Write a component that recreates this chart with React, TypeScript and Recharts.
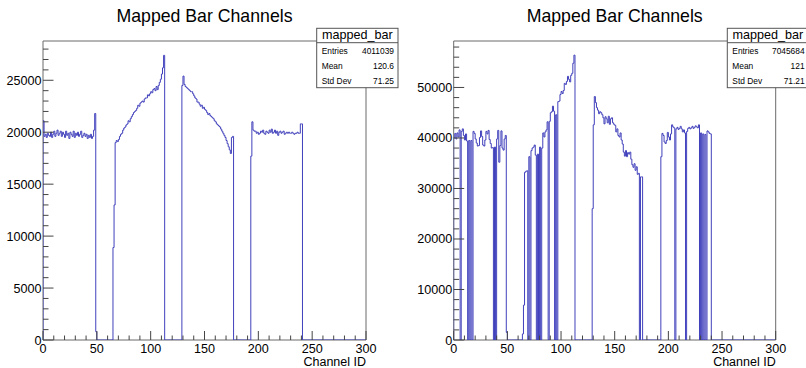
import React from 'react';
import { LineChart, Line, XAxis, YAxis, ReferenceArea } from 'recharts';

// Two ROOT-style histograms of mapped bar channel occupancy (bin width = 1 channel)

const FONT = '"Liberation Sans", Arial, Helvetica, sans-serif';
const LINE_COLOR = '#4040bc';
const FRAME_COLOR = '#6a6a6a';
const TICK_COLOR = '#444';

const CHANNEL_MAX = 300;
const xTicks = Array.from({ length: 31 }, (_, i) => i * 10);
const leftYTicks = Array.from({ length: 29 }, (_, i) => i * 1000);
const rightYTicks = Array.from({ length: 30 }, (_, i) => i * 2000);

const statLabels = ['Entries', 'Mean', 'Std Dev'];
const leftStats = ['4011039', '120.6', '71.25'];
const rightStats = ['7045684', '121', '71.21'];

// counts per channel, starting at channel 0 (channels past the end are empty)
const leftCounts = [
  21100, 19600, 19800, 19500, 19900, 19700, 19600, 20000, 19500, 19800, // 0
  20100, 19600, 19900, 20200, 19700, 19900, 20100, 19600, 20000, 19800, // 10
  19500, 20100, 19700, 19900, 19400, 20000, 19800, 19600, 20100, 19500, // 20
  19900, 19700, 20000, 19600, 19800, 20100, 19500, 19700, 19900, 19600, // 30
  19800, 19400, 19700, 19500, 19800, 19400, 19600, 20200, 21800, 800, // 40
  0, 0, 0, 0, 0, 0, 0, 0, 0, 0, // 50
  0, 0, 0, 0, 0, 8900, 13000, 19000, 19200, 19100, // 60
  19300, 19600, 19800, 19900, 20200, 20400, 20500, 20700, 20800, 21100, // 70
  21000, 21300, 21500, 21700, 21900, 22000, 22100, 22300, 22600, 22500, // 80
  22800, 22900, 23000, 22900, 23200, 23300, 23300, 23600, 23500, 23700, // 90
  23900, 23800, 24100, 24200, 24000, 24400, 24100, 24500, 24800, 25100, // 100
  25600, 26200, 27400, 0, 0, 0, 0, 0, 0, 0, // 110
  0, 0, 0, 0, 0, 0, 0, 0, 0, 24500, // 120
  25400, 24600, 24400, 24300, 24200, 24100, 24000, 23900, 23900, 23700, // 130
  23500, 23300, 23200, 22900, 22900, 22700, 22500, 22600, 22300, 22400, // 140
  22200, 22100, 21900, 21700, 21800, 21600, 21500, 21400, 21300, 21100, // 150
  21000, 20800, 20700, 20600, 20500, 20300, 20100, 19900, 19700, 19500, // 160
  19200, 18900, 18600, 18300, 17950, 19500, 19600, 0, 0, 0, // 170
  0, 0, 0, 0, 0, 0, 0, 0, 0, 0, // 180
  0, 0, 0, 17700, 21000, 20200, 20100, 20100, 19900, 20000, // 190
  19800, 19900, 20100, 20000, 20200, 19900, 19800, 20100, 20000, 19900, // 200
  20200, 20000, 20300, 19900, 20000, 20200, 19900, 20100, 19700, 20000, // 210
  20100, 19900, 20000, 20100, 19800, 19900, 20000, 19900, 20000, 19900, // 220
  19900, 20000, 19900, 19800, 19900, 19900, 20000, 19900, 19900, 20800, // 230
  20800, // 240
];

const rightCounts = [
  40000, 40900, 39800, 41000, 40200, 41600, 0, 41300, 41800, 40500, // 0
  39600, 40800, 39400, 0, 39500, 0, 39500, 0, 41300, 40900, // 10
  39800, 39000, 38400, 38500, 40100, 41400, 40300, 38600, 38400, 39600, // 20
  41300, 40800, 41500, 39700, 38900, 38000, 38100, 0, 38200, 0, // 30
  39800, 41500, 35200, 38500, 41400, 38000, 37600, 39800, 40500, 1500, // 40
  0, 0, 0, 0, 0, 0, 0, 0, 0, 0, // 50
  0, 0, 0, 0, 1200, 6900, 33200, 33400, 33500, 0, // 60
  36300, 0, 37500, 38000, 38200, 38600, 36600, 0, 36800, 0, // 70
  38200, 0, 38000, 41000, 40200, 41200, 41600, 43200, 0, 43300, // 80
  45000, 45200, 46300, 45300, 0, 44600, 0, 47200, 47300, 48600, // 90
  49200, 48800, 49400, 50800, 50600, 51200, 52200, 51600, 51100, 52400, // 100
  52800, 54800, 56400, 0, 0, 0, 0, 0, 0, 0, // 110
  0, 0, 0, 0, 0, 0, 0, 0, 0, 26000, // 120
  42600, 48200, 47000, 46000, 45500, 44800, 45200, 45000, 44600, 44000, // 130
  42800, 44200, 43800, 43000, 44300, 42700, 43800, 44000, 43000, 42700, // 140
  42500, 41200, 41800, 40500, 40200, 41000, 39600, 38800, 37200, 36400, // 150
  37500, 36300, 37100, 36800, 37200, 35800, 34700, 34200, 34900, 33600, // 160
  34300, 32800, 33000, 0, 32300, 32300, 0, 0, 0, 0, // 170
  0, 0, 0, 0, 0, 0, 0, 0, 0, 0, // 180
  0, 0, 0, 36300, 40900, 40500, 39200, 38900, 39500, 41100, // 190
  40200, 39600, 40800, 42600, 42200, 42000, 0, 41800, 42100, 41700, // 200
  41900, 42300, 41800, 41200, 41600, 41000, 0, 41300, 41900, 42100, // 210
  41800, 42000, 42300, 41900, 42100, 42400, 42200, 42000, 42600, 0, // 220
  41000, 0, 40800, 0, 40700, 0, 41400, 41200, 40900, 40800, // 230
];

// step outline: rise from 0 at channel 0, fall back to 0 after the last filled bin
const toSteps = (counts: number[]) => [
  { ch: 0, n: 0 },
  ...counts.map((n, ch) => ({ ch, n })),
  { ch: counts.length, n: 0 },
  { ch: CHANNEL_MAX, n: 0 },
];

const XTick = (props: any) => {
  const { x, y, payload } = props;
  const major = payload.value % 50 === 0;
  return (
    <g>
      <line x1={x} x2={x} y1={y} y2={y - (major ? 9 : 4.5)} stroke={TICK_COLOR} />
      {major && (
        <text x={x} y={y + 13} textAnchor="middle" fontSize={12.6} fontFamily={FONT} fill="#000">
          {payload.value}
        </text>
      )}
    </g>
  );
};

const makeYTick = (majorStep: number) => (props: any) => {
  const { x, y, payload } = props;
  const major = payload.value % majorStep === 0;
  return (
    <g>
      <line x1={x} x2={x + (major ? 10.5 : 5.5)} y1={y} y2={y} stroke={TICK_COLOR} />
      {major && (
        <text x={x - 1.5} y={y + 4.5} textAnchor="end" fontSize={12.6} fontFamily={FONT} fill="#000">
          {payload.value}
        </text>
      )}
    </g>
  );
};

interface PanelProps {
  left: number;
  plotLeft: number;
  plotRight: number;
  counts: number[];
  yMax: number;
  yTicks: number[];
  yMajor: number;
}

const Panel: React.FC<PanelProps> = ({ left, plotLeft, plotRight, counts, yMax, yTicks, yMajor }) => (
  <div style={{ position: 'absolute', left, top: 0 }}>
    <LineChart
      width={403}
      height={368}
      data={toSteps(counts)}
      margin={{ top: 41, right: plotRight, bottom: 0, left: 0 }}
    >
      <XAxis
        dataKey="ch"
        type="number"
        domain={[0, CHANNEL_MAX]}
        allowDataOverflow
        ticks={xTicks}
        interval={0}
        tick={XTick}
        tickLine={false}
        axisLine={false}
        tickSize={0}
        tickMargin={0}
        height={28}
      />
      <YAxis
        type="number"
        domain={[0, yMax]}
        allowDataOverflow
        ticks={yTicks}
        interval={0}
        tick={makeYTick(yMajor)}
        tickLine={false}
        axisLine={false}
        tickSize={0}
        tickMargin={0}
        width={plotLeft}
      />
      <ReferenceArea x1={0} x2={CHANNEL_MAX} y1={0} y2={yMax} fill="none" stroke={FRAME_COLOR} strokeWidth={1} />
      <Line
        dataKey="n"
        type="stepAfter"
        stroke={LINE_COLOR}
        strokeWidth={1}
        dot={false}
        activeDot={false}
        isAnimationActive={false}
      />
    </LineChart>
  </div>
);

const StatsBox: React.FC<{ x: number; values: string[] }> = ({ x, values }) => (
  <g fontFamily={FONT}>
    <rect x={x} y={28.3} width={81.3} height={59.4} fill="#fff" stroke="#555" />
    <line x1={x} x2={x + 81.3} y1={42.7} y2={42.7} stroke="#555" />
    <text x={x + 40.65} y={39} textAnchor="middle" fontSize={12.6}>mapped_bar</text>
    {statLabels.map((label, i) => (
      <g key={label} fontSize={8.4}>
        <text x={x + 5} y={53.8 + i * 15}>{label}</text>
        <text x={x + 77.3} y={53.8 + i * 15} textAnchor="end">{values[i]}</text>
      </g>
    ))}
  </g>
);

export default function App() {
  return (
    <div style={{ position: 'absolute', left: 0, top: 0, width: 806, height: 368, overflow: 'hidden', background: '#fff' }}>
      <Panel left={0} plotLeft={43} plotRight={37} counts={leftCounts} yMax={28780} yTicks={leftYTicks} yMajor={5000} />
      <Panel left={403} plotLeft={50.7} plotRight={30.3} counts={rightCounts} yMax={59200} yTicks={rightYTicks} yMajor={10000} />
      <svg width={806} height={368} style={{ position: 'absolute', left: 0, top: 0, pointerEvents: 'none' }}>
        <g fontFamily={FONT} fill="#000">
          <text x={204.5} y={21.7} textAnchor="middle" fontSize={17.7}>Mapped Bar Channels</text>
          <text x={614.7} y={21.7} textAnchor="middle" fontSize={17.7}>Mapped Bar Channels</text>
          <text x={366} y={366} textAnchor="end" fontSize={12.5}>Channel ID</text>
          <text x={775.7} y={366} textAnchor="end" fontSize={12.5}>Channel ID</text>
        </g>
        <StatsBox x={316.7} values={leftStats} />
        <StatsBox x={727.3} values={rightStats} />
      </svg>
    </div>
  );
}
